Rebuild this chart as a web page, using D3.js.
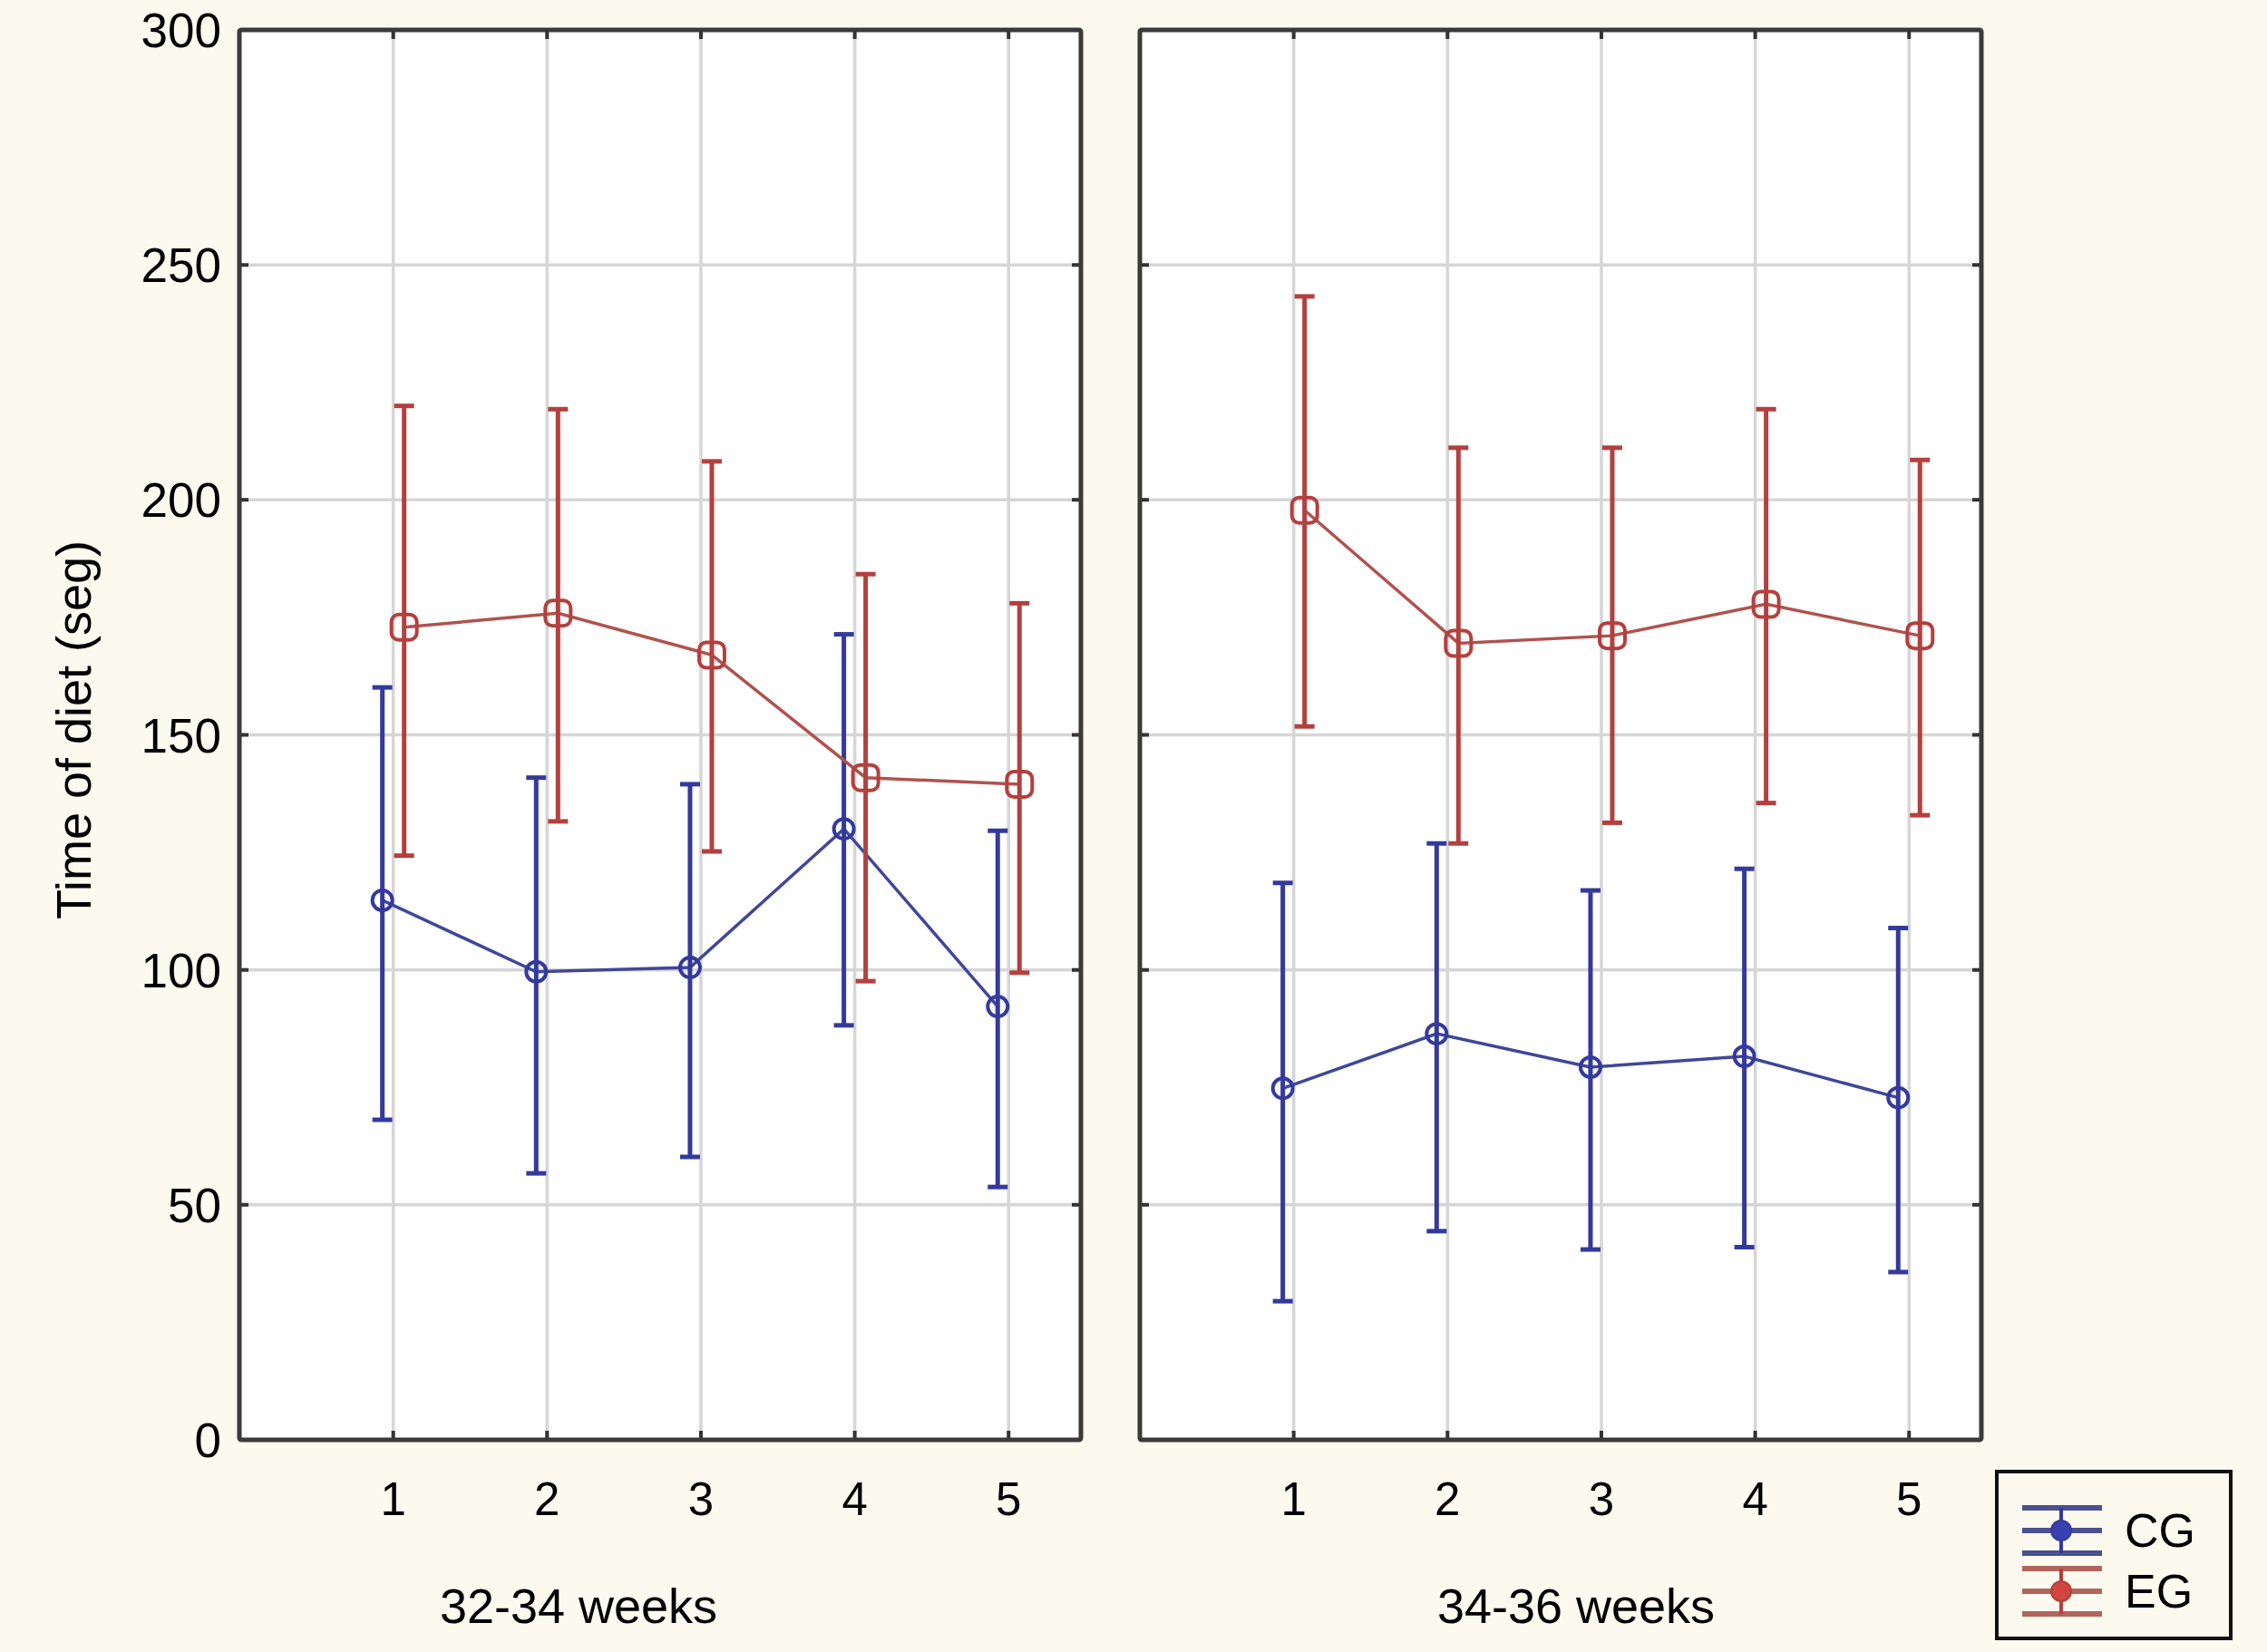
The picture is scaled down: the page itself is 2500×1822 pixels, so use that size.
<!DOCTYPE html>
<html>
<head>
<meta charset="utf-8">
<script src="https://cdn.jsdelivr.net/npm/d3@7"></script>
<style>
  body { margin: 0; background: #fcf9ee; }
  text { font-family: "Liberation Sans", Arial, sans-serif; fill: #000; }
</style>
</head>
<body>
<svg id="chart"></svg>
<script>
// x categories and panel names
var weeks = [1, 2, 3, 4, 5]
var periods = ["32-34 weeks", "34-36 weeks"]
var groups = ["CG", "EG"]
var yTicks = [0, 50, 100, 150, 200, 250, 300]

// 32-34 weeks
var cgMeanA = [114.8, 99.6, 100.5, 130.0, 92.2]
var cgLowA  = [68.1, 56.7, 60.2, 88.2, 53.8]
var cgHighA = [160.1, 140.9, 139.5, 171.4, 129.6]
var egMeanA = [172.9, 175.9, 167.0, 140.9, 139.5]
var egLowA  = [124.3, 131.6, 125.2, 97.6, 99.4]
var egHighA = [220.0, 219.3, 208.2, 184.2, 178.0]

// 34-36 weeks
var cgMeanB = [74.8, 86.4, 79.3, 81.6, 72.8]
var cgLowB  = [29.5, 44.4, 40.5, 41.0, 35.7]
var cgHighB = [118.5, 126.9, 116.9, 121.5, 108.9]
var egMeanB = [197.8, 169.5, 171.1, 177.8, 171.1]
var egLowB  = [151.8, 126.9, 131.3, 135.5, 132.9]
var egHighB = [243.3, 211.1, 211.1, 219.3, 208.5]

var dimensions = {
    width: 2500,
    height: 1822,
    top: 33,
    bottom: 1588,
    panels: [{left: 264, right: 1192}, {left: 1257, right: 2185}]
}

var colors = {CG: "#343a9c", EG: "#b3403e"}
var lineColors = {CG: "#40469a", EG: "#b0524e"}
var offsets = {CG: -12, EG: 12}

var svg = d3.select("#chart")
    .attr("width", dimensions.width)
    .attr("height", dimensions.height)

svg.append("rect")
    .attr("width", dimensions.width)
    .attr("height", dimensions.height)
    .attr("fill", "#fcf9ee")

var yScale = d3.scaleLinear()
    .domain([0, 300])
    .range([dimensions.bottom, dimensions.top])

function buildSeries(mean, low, high) {
    return weeks.map(function(w, i) {
        return {week: w, mean: mean[i], low: low[i], high: high[i]}
    })
}

var panelData = [
    {CG: buildSeries(cgMeanA, cgLowA, cgHighA), EG: buildSeries(egMeanA, egLowA, egHighA)},
    {CG: buildSeries(cgMeanB, cgLowB, cgHighB), EG: buildSeries(egMeanB, egLowB, egHighB)}
]

dimensions.panels.forEach(function(p, pi) {
    var xScale = d3.scaleLinear()
        .domain([0, 5.47])
        .range([p.left, p.right])

    var g = svg.append("g")

    g.append("rect")
        .attr("x", p.left).attr("y", dimensions.top)
        .attr("width", p.right - p.left)
        .attr("height", dimensions.bottom - dimensions.top)
        .attr("fill", "#fff")

    //gridlines
    g.selectAll(".hgrid")
        .data(yTicks.slice(1, -1))
        .enter().append("line")
        .attr("x1", p.left).attr("x2", p.right)
        .attr("y1", d => yScale(d)).attr("y2", d => yScale(d))
        .attr("stroke", "#d6d6d6").attr("stroke-width", 3.5)

    g.selectAll(".vgrid")
        .data(weeks)
        .enter().append("line")
        .attr("x1", d => xScale(d)).attr("x2", d => xScale(d))
        .attr("y1", dimensions.top).attr("y2", dimensions.bottom)
        .attr("stroke", "#d6d6d6").attr("stroke-width", 3.5)

    //inward tick marks on all four sides
    var tl = 10
    g.selectAll(".tb").data(weeks).enter().append("path")
        .attr("d", d => "M" + xScale(d) + "," + dimensions.top + "v" + tl +
                        "M" + xScale(d) + "," + dimensions.bottom + "v" + (-tl))
        .attr("stroke", "#333").attr("stroke-width", 4)
    g.selectAll(".lr").data(yTicks.slice(1, -1)).enter().append("path")
        .attr("d", d => "M" + p.left + "," + yScale(d) + "h" + tl +
                        "M" + p.right + "," + yScale(d) + "h" + (-tl))
        .attr("stroke", "#333").attr("stroke-width", 4)

    //x tick labels
    g.selectAll(".xlab").data(weeks).enter().append("text")
        .attr("x", d => xScale(d))
        .attr("y", 1671)
        .attr("text-anchor", "middle")
        .style("font-size", "51px")
        .text(d => d)

    g.append("text")
        .attr("x", pi == 0 ? 638 : 1738)
        .attr("y", 1790)
        .attr("text-anchor", "middle")
        .style("font-size", "54px")
        .text(periods[pi])

    groups.forEach(function(name) {
        var data = panelData[pi][name]
        var px = d => xScale(d.week) + offsets[name]

        g.append("path")
            .datum(data)
            .attr("fill", "none")
            .attr("stroke", lineColors[name])
            .attr("stroke-width", 3.5)
            .attr("d", d3.line().x(px).y(d => yScale(d.mean)))

        var bars = g.selectAll(".bar" + name).data(data).enter().append("g")
        bars.append("line")
            .attr("x1", px).attr("x2", px)
            .attr("y1", d => yScale(d.low)).attr("y2", d => yScale(d.high))
            .attr("stroke", colors[name]).attr("stroke-width", 5)
        bars.append("line")
            .attr("x1", d => px(d) - 11).attr("x2", d => px(d) + 11)
            .attr("y1", d => yScale(d.high)).attr("y2", d => yScale(d.high))
            .attr("stroke", colors[name]).attr("stroke-width", 5)
        bars.append("line")
            .attr("x1", d => px(d) - 11).attr("x2", d => px(d) + 11)
            .attr("y1", d => yScale(d.low)).attr("y2", d => yScale(d.low))
            .attr("stroke", colors[name]).attr("stroke-width", 5)

        if (name == "CG") {
            bars.append("circle")
                .attr("cx", px).attr("cy", d => yScale(d.mean))
                .attr("r", 11)
                .attr("fill", "none")
                .attr("stroke", colors[name]).attr("stroke-width", 4)
        } else {
            bars.append("rect")
                .attr("x", d => px(d) - 14).attr("y", d => yScale(d.mean) - 14)
                .attr("width", 28).attr("height", 28)
                .attr("rx", 8)
                .attr("fill", "none")
                .attr("stroke", colors[name]).attr("stroke-width", 4)
        }
    })

    //frame
    g.append("rect")
        .attr("x", p.left).attr("y", dimensions.top)
        .attr("width", p.right - p.left)
        .attr("height", dimensions.bottom - dimensions.top)
        .attr("fill", "none")
        .attr("stroke", "#3a3a3a").attr("stroke-width", 5)
        .attr("rx", 2)
})

//y axis labels
svg.selectAll(".ylab").data(yTicks).enter().append("text")
    .attr("x", 244)
    .attr("y", d => yScale(d) + 19)
    .attr("text-anchor", "end")
    .style("font-size", "53px")
    .text(d => d)

svg.append("text")
    .attr("transform", "translate(100,805) rotate(-90)")
    .attr("text-anchor", "middle")
    .style("font-size", "54px")
    .text("Time of diet (seg)")

//legend
var legend = svg.append("g")
legend.append("rect")
    .attr("x", 2202).attr("y", 1623)
    .attr("width", 258).attr("height", 184)
    .attr("fill", "none")
    .attr("stroke", "#111").attr("stroke-width", 4)

var legendLines = {CG: "#4a5090", EG: "#b0655d"}
groups.forEach(function(name, i) {
    var cy = 1688 + i * 67
    var item = legend.append("g")
    item.selectAll("line.h").data([-25, 0, 25]).enter().append("line")
        .attr("x1", 2230).attr("x2", 2318)
        .attr("y1", d => cy + d).attr("y2", d => cy + d)
        .attr("stroke", legendLines[name]).attr("stroke-width", 6)
    item.append("line")
        .attr("x1", 2273).attr("x2", 2273)
        .attr("y1", cy - 25).attr("y2", cy + 25)
        .attr("stroke", colors[name]).attr("stroke-width", 4)
    item.append("circle")
        .attr("cx", 2273).attr("cy", cy).attr("r", 11)
        .attr("fill", name == "CG" ? "#3a40b0" : "#d0453c")
        .attr("stroke", colors[name]).attr("stroke-width", 2)
    item.append("text")
        .attr("x", 2343).attr("y", cy + 18)
        .style("font-size", "52px")
        .text(name)
})
</script>
</body>
</html>
